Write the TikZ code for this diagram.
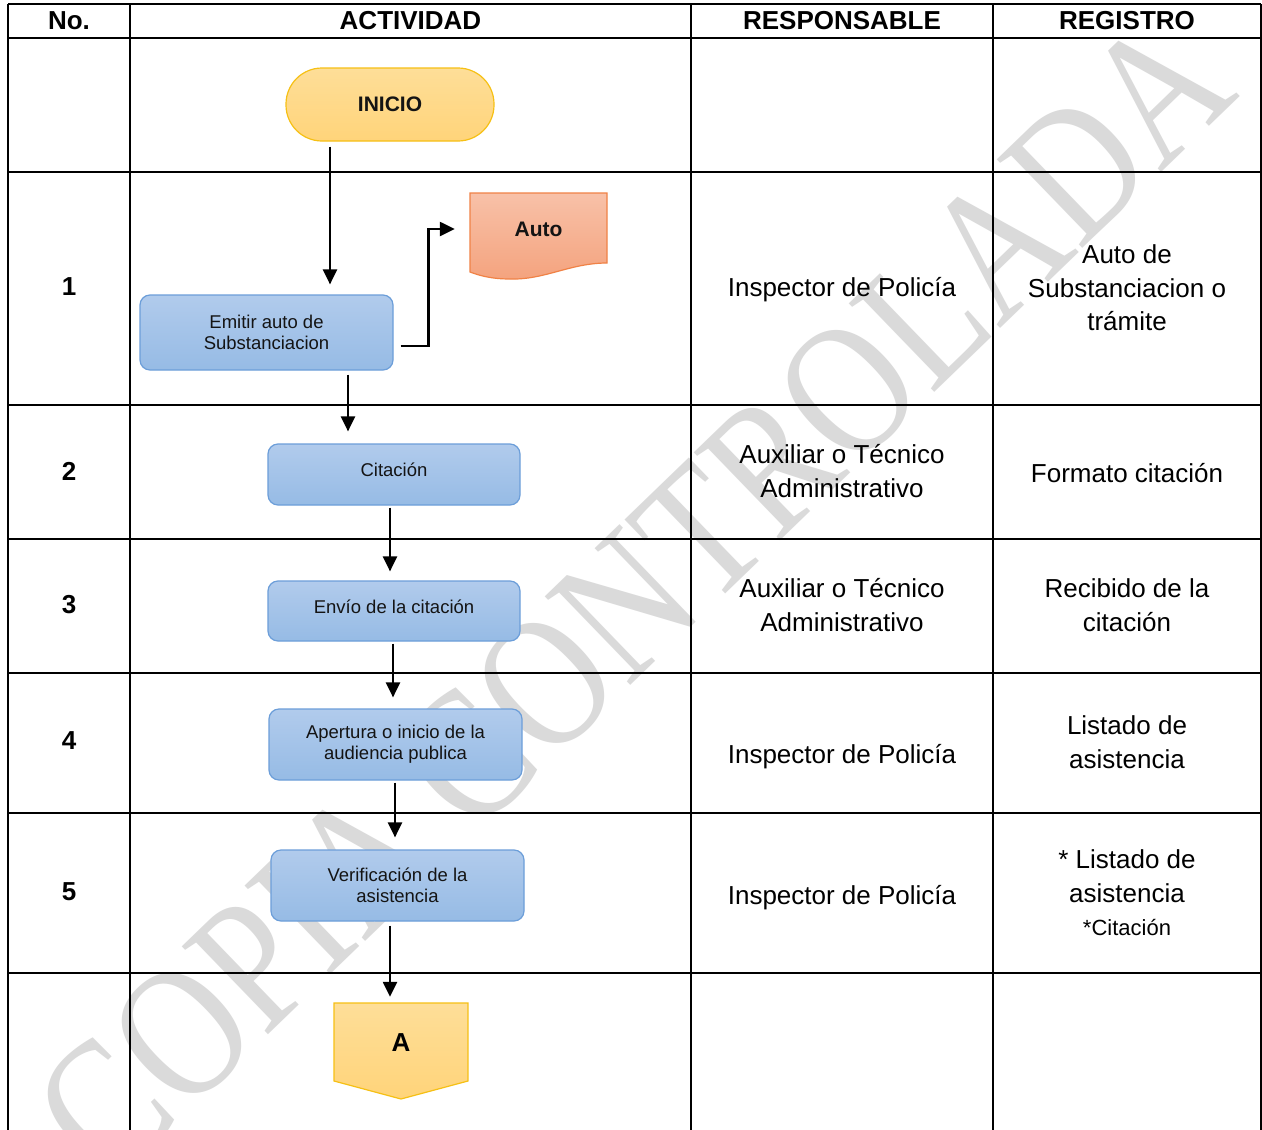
\documentclass[tikz,border=0pt]{standalone}
\usepackage{fontspec}
\setmainfont{Liberation Sans}
\newfontfamily\wmfont{Liberation Serif}
\usetikzlibrary{arrows.meta}
\definecolor{wm}{RGB}{218,218,218}
\definecolor{boxtop}{RGB}{177,203,236}
\definecolor{boxbot}{RGB}{150,187,229}
\definecolor{boxline}{RGB}{108,158,217}
\definecolor{yeltop}{RGB}{254,222,152}
\definecolor{yelbot}{RGB}{255,212,122}
\definecolor{yelline}{RGB}{246,192,20}
\definecolor{ortop}{RGB}{248,193,168}
\definecolor{orbot}{RGB}{244,163,126}
\definecolor{orline}{RGB}{240,130,70}
\definecolor{txt}{RGB}{20,20,20}
\begin{document}
\begin{tikzpicture}[x=1pt,y=-1pt,
  grid/.style={line width=2pt,black},
  hdr/.style={font=\bfseries\fontsize{26}{30}\selectfont,text=black,inner sep=0pt},
  cell/.style={font=\fontsize{26}{33.5}\selectfont,align=center,text=black,inner sep=0pt},
  num/.style={font=\bfseries\fontsize{26}{30}\selectfont,text=black,inner sep=0pt},
  procbox/.style={draw=boxline,line width=1.2pt,rounded corners=10pt,top color=boxtop,bottom color=boxbot,
    minimum width=253pt,align=center,font=\fontsize{18.5}{21}\selectfont,text=txt,inner sep=0pt},
  arr/.style={line width=2.4pt,-{Triangle[width=14pt,length=15pt]}}
]
\useasboundingbox (0,0) rectangle (1262,1130);
\fill[white] (0,0) rectangle (1262,1130);

% watermark
\node[rotate=44,xscale=0.825,text=wm,inner sep=0pt,font=\wmfont\fontsize{188}{188}\selectfont] (wmark) at (633,598) {COPIA CONTROLADA};

% table grid
\draw[grid] (8,4) -- (1261,4);
\foreach \yy in {38,172,405,539,673,813,973} \draw[grid] (8,\yy) -- (1261,\yy);
\foreach \xx in {8,130,691,993,1261} \draw[grid] (\xx,4) -- (\xx,1130);

% header
\node[hdr] (h1) at (69,21) {No.};
\node[hdr] (h2) at (410.5,21) {ACTIVIDAD};
\node[hdr] (h3) at (842,21) {RESPONSABLE};
\node[hdr] (h4) at (1127,21) {REGISTRO};

% numbers
\node[num] (n1) at (69,287) {1};
\node[num] (n2) at (69,471) {2};
\node[num] (n3) at (69,605) {3};
\node[num] (n4) at (69,741) {4};
\node[num] (n5) at (69,892) {5};

% responsable
\node[cell] (r1) at (842,290) {Inspector de Policía};
\node[cell] (r2) at (842,471) {Auxiliar o Técnico\\Administrativo};
\node[cell] (r3) at (842,605) {Auxiliar o Técnico\\Administrativo};
\node[cell] (r4) at (842,757) {Inspector de Policía};
\node[cell] (r5) at (842,898) {Inspector de Policía};

% registro
\node[cell] (g1) at (1127,288) {Auto de\\Substanciacion o\\trámite};
\node[cell] (g2) at (1127,473) {Formato citación};
\node[cell] (g3) at (1127,605) {Recibido de la\\citación};
\node[cell] (g4) at (1127,742) {Listado de\\asistencia};
\node[cell] (g5) at (1127,893) {* Listado de\\asistencia\\{\fontsize{22}{32}\selectfont *Citación}};

% flowchart shapes
\node[draw=yelline,line width=1.2pt,top color=yeltop,bottom color=yelbot,rounded corners=36pt,
  minimum width=208pt,minimum height=73pt,inner sep=0pt,font=\bfseries\fontsize{21}{24}\selectfont,text=txt]
  (inicio) at (390,104.5) {INICIO};

\node[procbox,minimum height=75pt] (emitir) at (266.5,332.5) {Emitir auto de\\Substanciacion};
\node[procbox,minimum height=61pt,minimum width=252pt] (citacion) at (394,474.5) {\raisebox{10pt}{Citación}};
\node[procbox,minimum height=60pt,minimum width=252pt] (envio) at (394,611) {\raisebox{9pt}{Envío de la citación}};
\node[procbox,minimum height=71pt] (apertura) at (395.5,744.5) {Apertura o inicio de la\\audiencia publica};
\node[procbox,minimum height=71pt] (verif) at (397.5,885.5) {Verificación de la\\asistencia};

% document shape "Auto"
\draw[orline,line width=1.2pt,top color=ortop,bottom color=orbot]
  (470,193) -- (607,193) -- (607,263) .. controls (570,263) and (545,280) .. (510,279)
  .. controls (490,279) and (478,275) .. (470,272) -- cycle;
\node[inner sep=0pt,minimum width=137pt,minimum height=70pt,font=\bfseries\fontsize{21}{24}\selectfont,text=txt]
  (auto) at (538.5,229) {Auto};

% off-page connector "A"
\draw[yelline,line width=1.2pt,top color=yeltop,bottom color=yelbot]
  (334,1003) -- (468,1003) -- (468,1081) -- (401,1099) -- (334,1081) -- cycle;
\node[inner sep=0pt,minimum width=134pt,minimum height=80pt,font=\bfseries\fontsize{26}{30}\selectfont,text=black]
  (conA) at (401,1043) {A};

% connectors
\draw[arr,shorten <=5pt,shorten >=10pt] (inicio.south -| 330,0) -- (emitir.north -| 330,0);
\draw[arr,shorten >=15pt] ([shift={(7,13.5)}]emitir.east) -- ++(28,0) |- (auto.west);
\draw[arr,shorten <=4pt,shorten >=12pt] (emitir.south -| 348,0) -- (citacion.north -| 348,0);
\draw[arr,shorten <=2pt,shorten >=9pt] (citacion.south -| 390,0) -- (envio.north -| 390,0);
\draw[arr,shorten <=2pt,shorten >=11pt] (envio.south -| 393,0) -- (apertura.north -| 393,0);
\draw[arr,shorten <=2pt,shorten >=12pt] (apertura.south -| 395,0) -- (verif.north -| 395,0);
\draw[arr,shorten <=4pt,shorten >=6pt] (verif.south -| 390,0) -- (conA.north -| 390,0);
\end{tikzpicture}
\end{document}
